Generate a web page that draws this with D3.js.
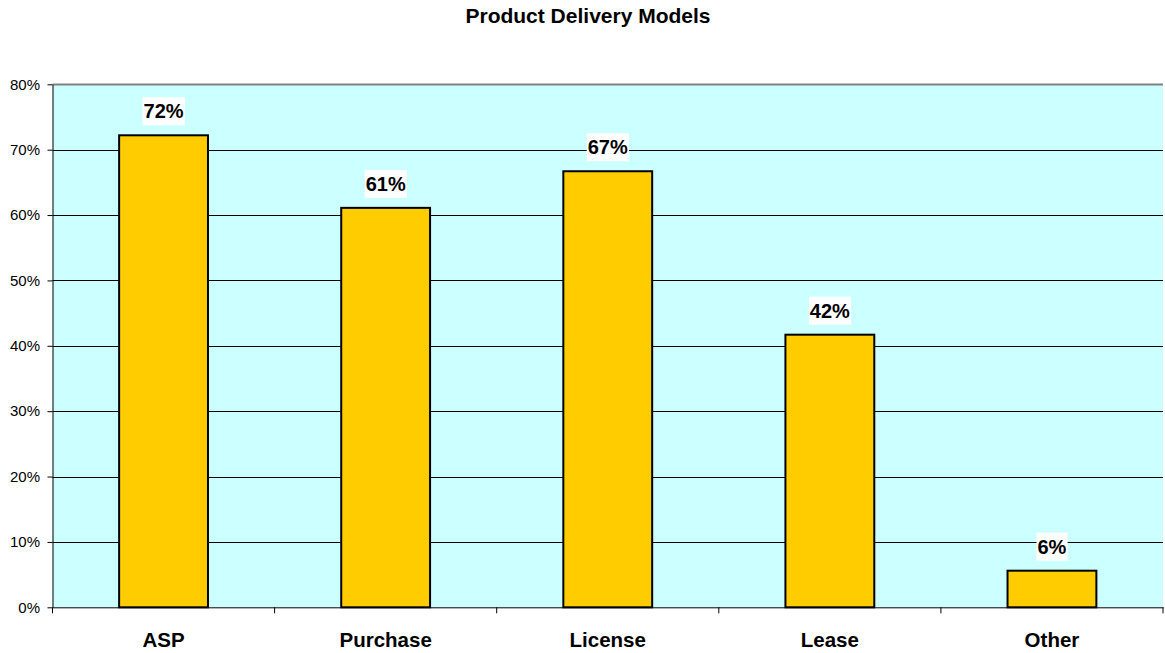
<!DOCTYPE html>
<html><head><meta charset="utf-8">
<script src="https://cdn.jsdelivr.net/npm/d3@7"></script>
<style>body{margin:0;background:#fff;} text{font-family:Arial,"Liberation Sans",sans-serif;}</style>
</head><body>
<svg id="c" width="1165" height="653"></svg>
<script>
const categories = ["ASP","Purchase","License","Lease","Other"];
const values = [0.722,0.611,0.667,0.417,0.056];
const labels = ["72%","61%","67%","42%","6%"];
const yTicks = [0,0.1,0.2,0.3,0.4,0.5,0.6,0.7,0.8];
const title = "Product Delivery Models";

const svg = d3.select("#c");
const L = 52.5, R = 1163, T = 84.3, B = 607.3;
const x = d3.scaleBand().domain(categories).range([L,R]).paddingInner(0).paddingOuter(0);
const y = d3.scaleLinear().domain([0,0.8]).range([B,T]);

svg.append("text").attr("x",588).attr("y",23).attr("text-anchor","middle")
  .attr("font-weight","bold").attr("font-size","21px").text(title);

svg.append("rect").attr("x",L).attr("y",T).attr("width",R-L).attr("height",B-T).attr("fill","#CCFFFF");

svg.append("g").selectAll("line").data(yTicks.slice(1)).join("line")
  .attr("x1",L).attr("x2",R).attr("y1",d=>Math.round(y(d))+0.5).attr("y2",d=>Math.round(y(d))+0.5)
  .attr("stroke",d=>d===0.8?"#808080":"#000").attr("stroke-width",d=>d===0.8?2:1);

// y axis
const ya = svg.append("g").attr("transform",`translate(${L},0)`)
  .call(d3.axisLeft(y).tickValues(yTicks).tickFormat(d3.format(".0%")).tickSize(5).tickPadding(7.5).tickSizeOuter(0));
ya.select(".domain").attr("stroke","#000");
ya.selectAll("text").attr("font-size","15px").attr("fill","#000").attr("font-family","Arial");
ya.selectAll(".tick line").attr("stroke","#000");

// bars
const bw = x.bandwidth()*0.4;
svg.append("g").selectAll("rect").data(values).join("rect")
  .attr("x",(d,i)=>x(categories[i])+x.bandwidth()/2-bw/2)
  .attr("y",d=>y(d)).attr("width",bw).attr("height",d=>B-y(d))
  .attr("fill","#FFCC00").attr("stroke","#000").attr("stroke-width",2);

// x axis
const xa = svg.append("g").attr("transform",`translate(0,${B})`)
  .call(d3.axisBottom(x).tickSize(0).tickSizeOuter(0));
xa.select(".domain").attr("stroke","#000");
xa.selectAll("text").attr("y",40).attr("dy",0).attr("font-size","20.5px").attr("font-weight","bold").attr("fill","#000").attr("font-family","Arial");
svg.append("g").selectAll("line").data(d3.range(categories.length+1)).join("line")
  .attr("x1",i=>L+i*x.step()).attr("x2",i=>L+i*x.step()).attr("y1",B).attr("y2",B+6).attr("stroke","#000");

// labels
const lg = svg.append("g").selectAll("g").data(values).join("g")
  .attr("transform",(d,i)=>`translate(${x(categories[i])+x.bandwidth()/2},${y(d)})`);
lg.each(function(d,i){
  const g = d3.select(this);
  const t = g.append("text").attr("text-anchor","middle").attr("font-weight","bold").attr("font-size","20px")
    .attr("y",-17).text(labels[i]);
  const bb = t.node().getBBox();
  g.insert("rect","text").attr("x",bb.x-1).attr("y",-38).attr("width",bb.width+2).attr("height",28).attr("fill","#fff");
});
</script>
</body></html>
